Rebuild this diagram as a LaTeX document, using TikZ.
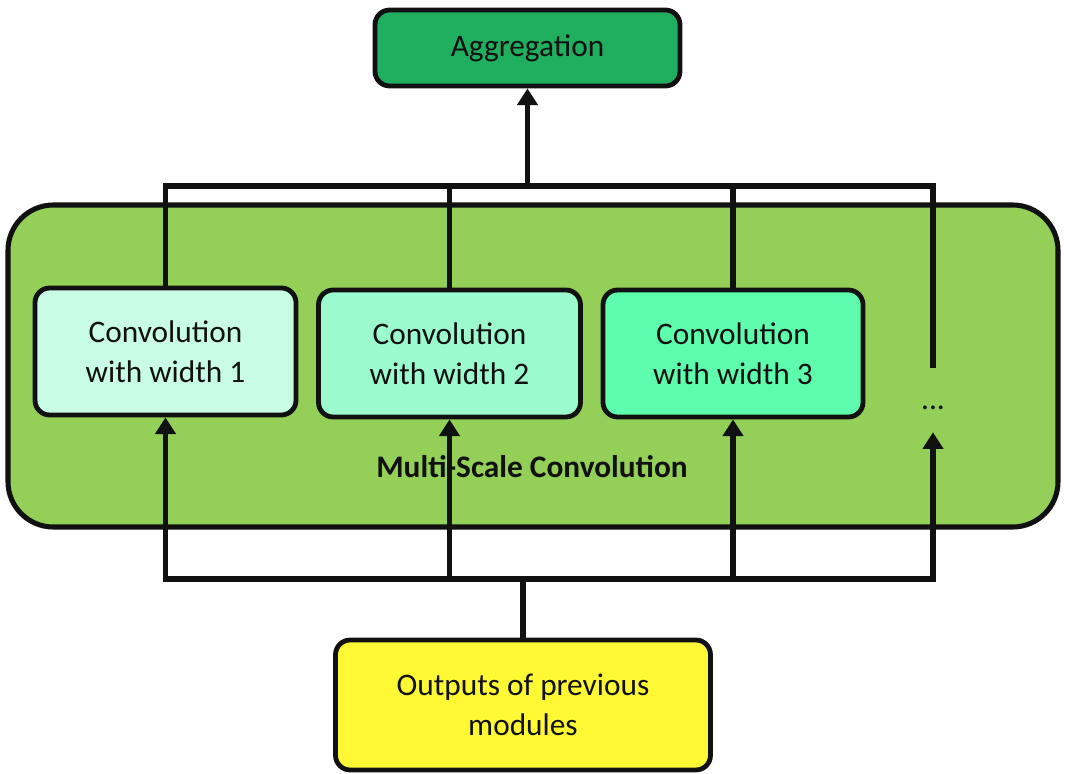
\documentclass[tikz,border=0pt]{standalone}
\usepackage{fontspec}
\setmainfont{Carlito}
\usetikzlibrary{arrows.meta,shadows}

\definecolor{aggfill}{HTML}{20AE5F}
\definecolor{msfill}{HTML}{94CF58}
\definecolor{convA}{HTML}{C8FCE4}
\definecolor{convB}{HTML}{9BFACE}
\definecolor{convC}{HTML}{5EFDAE}
\definecolor{srcfill}{HTML}{FFF935}
\definecolor{ink}{HTML}{111111}

\tikzset{
  blockbox/.style={draw=ink, line width=3.6pt, rounded corners=11pt, align=center,
    text=ink, font=\fontsize{23.5}{30}\selectfont, inner sep=0pt,
    drop shadow={opacity=0.25, shadow xshift=1.2pt, shadow yshift=-1.2pt}},
  wire/.style={draw=ink, line width=4.2pt},
  uparrow/.style={wire, -{Triangle[width=15pt,length=12.5pt]}},
}

\begin{document}
\begin{tikzpicture}[x=0.75pt, y=-0.75pt]
  \useasboundingbox (0,0) rectangle (1076,774);

  % container for the multi-scale convolution stage
  \node[draw=ink, line width=3.8pt, fill=msfill, rounded corners=34pt,
        minimum width=1050*0.75pt, minimum height=322*0.75pt, inner sep=0pt]
        (ms) at (533,366) {};
  \node[font=\bfseries\fontsize{23.5}{30}\selectfont, text=ink] (mslabel) at (532,467) {Multi-Scale Convolution};

  % blocks
  \node[blockbox, fill=aggfill, minimum width=305*0.75pt, minimum height=76*0.75pt]
        (agg) at (527.5,48) {Aggregation};
  \node[blockbox, fill=convA, minimum width=261*0.75pt, minimum height=127*0.75pt]
        (b1) at (165.5,351.5) {Convolution\\with width 1};
  \node[blockbox, fill=convB, minimum width=262*0.75pt, minimum height=127*0.75pt]
        (b2) at (449.5,353.5) {Convolution\\with width 2};
  \node[blockbox, fill=convC, minimum width=260*0.75pt, minimum height=127*0.75pt]
        (b3) at (733,353.5) {Convolution\\with width 3};
  \node[text=ink, font=\fontsize{23.5}{30}\selectfont, minimum height=64*0.75pt,
        text height=13.5pt, text depth=0pt, inner sep=0pt]
        (dots) at (933,400) {...};
  \node[blockbox, fill=srcfill, minimum width=375*0.75pt, minimum height=130*0.75pt]
        (src) at (523,705) {Outputs of previous\\modules};

  % bus levels
  \coordinate (topbus) at (0,186);
  \coordinate (botbus) at (0,579);

  % upper bus: branch outputs merged into aggregation
  \draw[wire, line join=miter] (b1.north) -- (b1.north |- topbus) -- (dots.north |- topbus) -- (dots.north);
  \draw[wire] (b2.north) -- (b2.north |- topbus);
  \draw[wire] (b3.north) -- (b3.north |- topbus);
  \draw[uparrow] (agg.south |- topbus) -- (agg.south);

  % lower bus: previous outputs fed into every branch
  \draw[wire] (src.north) -- (src.north |- botbus);
  \draw[wire, line cap=rect] (b1.south |- botbus) -- (dots.south |- botbus);
  \draw[uparrow] (b1.south |- botbus) -- (b1.south);
  \draw[uparrow] (b2.south |- botbus) -- (b2.south);
  \draw[uparrow] (b3.south |- botbus) -- (b3.south);
  \draw[uparrow] (dots.south |- botbus) -- (dots.south);
\end{tikzpicture}
\end{document}
